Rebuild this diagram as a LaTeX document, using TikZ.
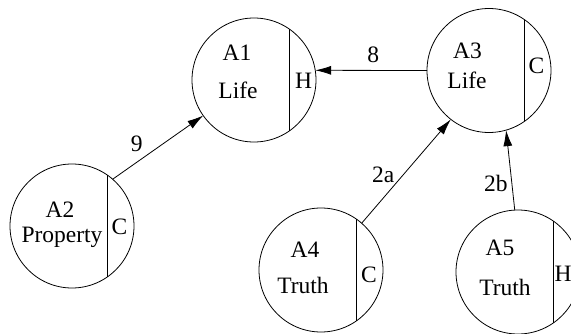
\documentclass[tikz,border=0pt]{standalone}
\usepackage{fontspec}
\setmainfont{Liberation Serif}
\usetikzlibrary{arrows.meta}

\begin{document}
\begin{tikzpicture}[x=1pt, y=-1pt, >={Latex[length=16pt,width=9pt]}, line width=0.8pt,
    agent/.style={circle, draw, minimum size=124pt, inner sep=0pt, outer sep=0pt},
    txt/.style={font=\fontsize{23.5}{28}\selectfont, inner sep=0pt, anchor=base},
    lbl/.style={font=\fontsize{23.5}{28}\selectfont, inner sep=0pt}]
    \useasboundingbox (0,0) rectangle (571,334);
    \clip (0,0) rectangle (571,334);

    % A1
    \node[agent] (a1) at (254,80) {};
    \draw (a1.55) -- (a1.-55);
    \node[txt] (a1id) at (237,61) {A1};
    \node[txt] (a1role) at (238,99) {Life};
    \node[txt] (a1side) at (303.5,89) {H};

    % A2
    \node[agent] (a2) at (72,226) {};
    \draw (a2.55) -- (a2.-55);
    \node[txt] (a2id) at (60,218) {A2};
    \node[txt] (a2role) at (62,243) {Property};
    \node[txt] (a2side) at (119.5,235) {C};

    % A3
    \node[agent] (a3) at (489,70.5) {};
    \draw (a3.55) -- (a3.-55);
    \node[txt] (a3id) at (467.5,59) {A3};
    \node[txt] (a3role) at (467,89) {Life};
    \node[txt] (a3side) at (536.5,74) {C};

    % A4
    \node[agent] (a4) at (321,270) {};
    \draw (a4.55) -- (a4.-55);
    \node[txt] (a4id) at (305,258) {A4};
    \node[txt] (a4role) at (303,294) {Truth};
    \node[txt] (a4side) at (369,283) {C};

    % A5
    \node[agent] (a5) at (518,272) {};
    \draw (a5.55) -- (a5.-55);
    \node[txt] (a5id) at (500,255) {A5};
    \node[txt] (a5role) at (505,295) {Truth};
    \node[txt] (a5side) at (563,282) {H};

    % Arrows
    \draw[->] (a2.49) -- node[lbl, pos=.36, xshift=-8.5pt, yshift=12.5pt] (l9) {9} (a1.215);
    \draw[->] (a3.180) -- node[lbl, pos=.48, yshift=16pt] (l8) {8} (a1.9);
    \draw[->] (a4.49) -- node[lbl, pos=.37, xshift=-11.4pt, yshift=9.8pt] (l2a) {2a} (a3.232);
    \draw[->] (a5.93) -- node[lbl, pos=.35, xshift=-15.8pt, yshift=-1.8pt] (l2b) {2b} (a3.286);
\end{tikzpicture}
\end{document}
